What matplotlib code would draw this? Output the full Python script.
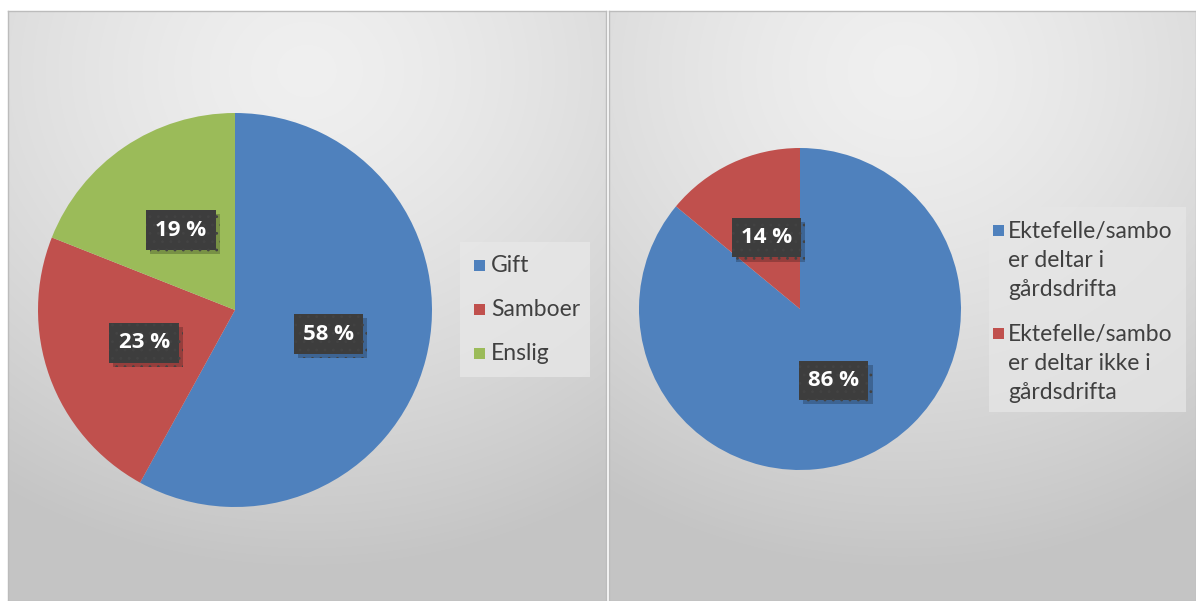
import numpy as np
import matplotlib
matplotlib.use("Agg")
import matplotlib.pyplot as plt
import matplotlib.patheffects as pe
from matplotlib.patches import Rectangle

plt.rcParams['font.family'] = ['Lato', 'DejaVu Sans']
plt.rcParams['hatch.linewidth'] = 0.8

# data
left_labels = ['Gift', 'Samboer', 'Enslig']
left_values = [58, 23, 19]
right_labels = ['Ektefelle/sambo\ner deltar i\ngårdsdrifta',
                'Ektefelle/sambo\ner deltar ikke i\ngårdsdrifta']
right_values = [86, 14]

blue = '#4F81BD'
red = '#C0504D'
green = '#9BBB59'

W, H = 1196, 601
fig = plt.figure(figsize=(W / 100, H / 100), dpi=100)
fig.patch.set_facecolor('white')


def px_axes(x0, y0, x1, y1, **kw):
    # pixel box (top-left origin) -> figure axes
    return fig.add_axes([x0 / W, 1 - y1 / H, (x1 - x0) / W, (y1 - y0) / H], **kw)


def panel_bg(x0, y0, x1, y1):
    ax = px_axes(x0, y0, x1, y1)
    ny, nx = 200, 200
    yy, xx = np.mgrid[0:1:ny * 1j, 0:1:nx * 1j]
    r = np.sqrt(((xx - 0.5) / 0.95) ** 2 + ((yy - 0.1) / 0.85) ** 2)
    t = np.clip(r, 0, 1) ** 1.4
    c0, c1 = 0.94, 0.77
    img = c0 + (c1 - c0) * t
    ax.imshow(np.dstack([img] * 3), extent=[0, 1, 1, 0], aspect='auto',
              interpolation='bilinear')
    ax.set_xlim(0, 1)
    ax.set_ylim(1, 0)
    ax.set_xticks([])
    ax.set_yticks([])
    for s in ax.spines.values():
        s.set_color('#bcbcbc')
        s.set_linewidth(1.0)
    return ax


panel_bg(8, 11, 606, 601)
panel_bg(609, 11, 1196, 601)


def draw_pie(box, values, colors, pctdist):
    ax = px_axes(*box)
    ax.set_facecolor('none')
    wedges, _, autotexts = ax.pie(
        values, colors=colors, startangle=90, counterclock=False,
        autopct=lambda p: f'{p:.0f} %', pctdistance=pctdist,
        wedgeprops=dict(linewidth=0))
    ax.set_xlim(-1, 1)
    ax.set_ylim(-1, 1)
    for t in autotexts:
        t.set_fontfamily(['Open Sans', 'DejaVu Sans'])
        t.set_fontsize(16)
        t.set_fontweight('bold')
        t.set_color('white')
        t.set_zorder(5)
        t.set_bbox(dict(boxstyle='square,pad=0.42', fc='#3d3d3d', ec='#434343',
                        lw=0, hatch='..'))
        t.get_bbox_patch().set_path_effects(
            [pe.SimplePatchShadow(offset=(3, -3), shadow_rgbFace='black', alpha=0.22),
             pe.Normal()])
    return ax, wedges


ax1, w1 = draw_pie((38, 113, 432, 507), left_values, [blue, red, green], 0.49)
ax2, w2 = draw_pie((639, 148, 961, 470), right_values, [blue, red], 0.49)

# legends drawn in pixel coordinates on an overlay
ov = px_axes(0, 0, W, H)
ov.set_xlim(0, W)
ov.set_ylim(H, 0)
ov.set_axis_off()
ov.patch.set_alpha(0)

ov.add_patch(Rectangle((460, 242), 130, 135, fc='#e8e8e8', ec='none', alpha=0.75))
for i, (lab, w) in enumerate(zip(left_labels, w1)):
    yc = 265 + i * 44
    ov.add_patch(Rectangle((474, yc - 5.5), 11, 11, fc=w.get_facecolor(), ec='none'))
    ov.text(491, yc, lab, ha='left', va='center', fontsize=16.5, color='#404040')

ov.add_patch(Rectangle((989, 207), 197, 205, fc='#e6e6e6', ec='none', alpha=0.75))
for i, (lab, w) in enumerate(zip(right_labels, w2)):
    ytop = 230 + i * 103
    ov.add_patch(Rectangle((993, ytop - 5.5), 11, 11, fc=w.get_facecolor(), ec='none'))
    ov.text(1008, ytop - 9, lab, ha='left', va='top', fontsize=16.5,
            color='#404040', linespacing=1.47)

fig.savefig('out.png', dpi=100)
